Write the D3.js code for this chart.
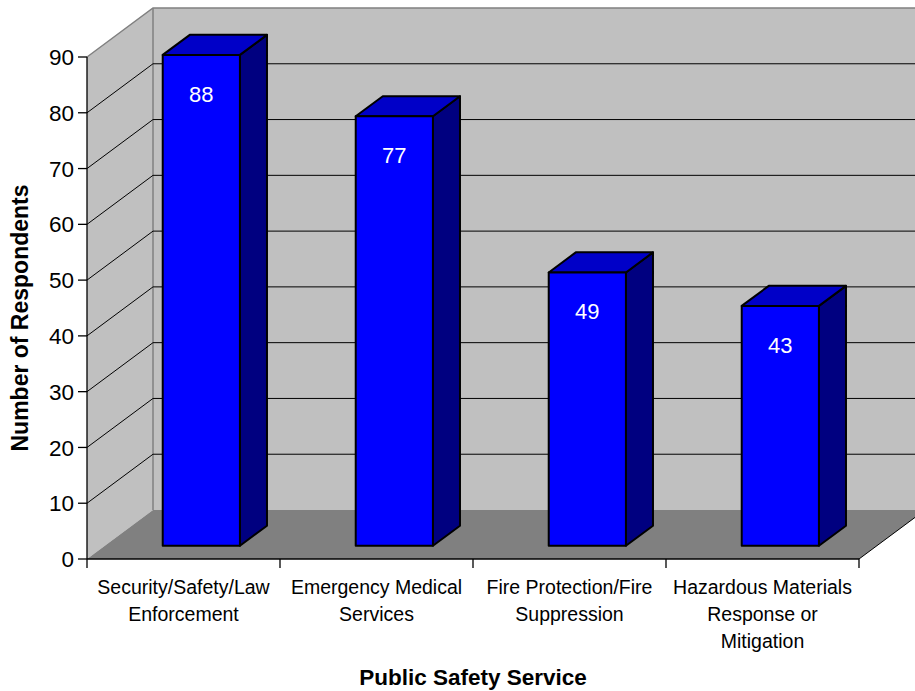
<!DOCTYPE html>
<html><head><meta charset="utf-8">
<script src="https://cdn.jsdelivr.net/npm/d3@7"></script>
<style>body{margin:0;background:#fff}svg{display:block}text{font-family:"Liberation Sans",Arial,sans-serif}</style>
</head><body><svg id="c" width="915" height="691"></svg>
<script>
const categories = ["Security/Safety/Law Enforcement","Emergency Medical Services","Fire Protection/Fire Suppression","Hazardous Materials Response or Mitigation"];
const categoryLines = [["Security/Safety/Law","Enforcement"],["Emergency Medical","Services"],["Fire Protection/Fire","Suppression"],["Hazardous Materials","Response or","Mitigation"]];
const values = [88,77,49,43];
const yTicks = [0,10,20,30,40,50,60,70,80,90];
const yTitle = "Number of Respondents";
const xTitle = "Public Safety Service";

const svg = d3.select("#c");
const W = 915;
const x = d3.scaleBand().domain(categories).range([87,859]).paddingInner(0).paddingOuter(0);
const y = d3.scaleLinear().domain([0,90]).range([559,57]);
const DX = 66, DY = -49; // depth vector (full depth)
const P = (px,py,d)=>[px+DX*d, py+DY*d];
const x0 = x.range()[0], x1 = x.range()[1];

const g = svg.append("g");
// back wall
const bw = [P(x0,y(90),1),[W+5,y(90)+DY],[W+5,y(0)+DY],P(x0,y(0),1)];
g.append("polygon").attr("points",bw.join(" ")).attr("fill","#c0c0c0");
// side wall
const sw = [[x0,y(90)],P(x0,y(90),1),P(x0,y(0),1),[x0,y(0)]];
g.append("polygon").attr("points",sw.join(" ")).attr("fill","#c0c0c0");
// floor
const fl = [[x0,y(0)],P(x0,y(0),1),P(x1,y(0),1),[x1,y(0)]];
g.append("polygon").attr("points",fl.join(" ")).attr("fill","#808080");
// wall edges (gray)
const line = d3.line();
g.append("path").attr("d",line([[x0,y(90)],P(x0,y(90),1),[W+5,y(90)+DY]])).attr("fill","none").attr("stroke","#808080").attr("stroke-width",1.5);
g.append("path").attr("d",line([P(x0,y(90),1),P(x0,y(0),1)])).attr("fill","none").attr("stroke","#808080").attr("stroke-width",1.5);
// gridlines
yTicks.filter(v=>v>0&&v<90).forEach(v=>{
  g.append("path").attr("d",line([[x0,y(v)],P(x0,y(v),1),[W+5,y(v)+DY]]))
   .attr("fill","none").attr("stroke","#000").attr("stroke-width",1);
});
// floor right edge
g.append("path").attr("d",line([[x1,y(0)],P(x1,y(0),1)])).attr("fill","none").attr("stroke","#000").attr("stroke-width",1);

// y axis
g.append("line").attr("x1",x0).attr("x2",x0).attr("y1",y(90)).attr("y2",y(0)).attr("stroke","#000").attr("stroke-width",1.3);
yTicks.forEach(v=>{
  g.append("line").attr("x1",x0-9).attr("x2",x0).attr("y1",y(v)).attr("y2",y(v)).attr("stroke","#000").attr("stroke-width",1.3);
  g.append("text").attr("x",x0-13).attr("y",y(v)).attr("dy","0.36em").attr("text-anchor","end")
   .attr("font-size",22.5).text(v);
});
// x axis
g.append("line").attr("x1",x0).attr("x2",x1).attr("y1",y(0)).attr("y2",y(0)).attr("stroke","#000").attr("stroke-width",1.3);
const bounds = categories.map(c=>x(c)).concat([x1]);
bounds.forEach(b=>{
  g.append("line").attr("x1",b).attr("x2",b).attr("y1",y(0)).attr("y2",y(0)+9).attr("stroke","#000").attr("stroke-width",1.3);
});

// bars
const dF = 0.27, dB = 0.68, bwFrac = 0.4;
categories.forEach((c,i)=>{
  const v = values[i];
  const cx = x(c) + x.bandwidth()/2;
  const hw = x.bandwidth()*bwFrac/2;
  const fl = P(cx-hw, y(v), dF), fr = P(cx+hw, y(v), dF);
  const bl = P(cx-hw, y(0), dF), br = P(cx+hw, y(0), dF);
  const tl2 = P(cx-hw, y(v), dB), tr2 = P(cx+hw, y(v), dB), br2 = P(cx+hw, y(0), dB);
  const bar = g.append("g");
  bar.append("polygon").attr("points",[fr,tr2,br2,br].join(" ")).attr("fill","#000080").attr("stroke","#000").attr("stroke-width",2).attr("stroke-linejoin","round");
  bar.append("polygon").attr("points",[fl,tl2,tr2,fr].join(" ")).attr("fill","#0000c8").attr("stroke","#000").attr("stroke-width",2).attr("stroke-linejoin","round");
  bar.append("polygon").attr("points",[fl,fr,br,bl].join(" ")).attr("fill","#0000ff").attr("stroke","#000").attr("stroke-width",2).attr("stroke-linejoin","round");
  bar.append("text").attr("x",(fl[0]+fr[0])/2).attr("y",fl[1]+39).attr("dy","0.36em").attr("text-anchor","middle")
    .attr("font-size",22).attr("fill","#fff").text(v);
});

// category labels
categories.forEach((c,i)=>{
  const t = g.append("text").attr("text-anchor","middle").attr("font-size",19.5);
  categoryLines[i].forEach((ln,j)=>{
    t.append("tspan").attr("x",x(c)+x.bandwidth()/2).attr("y",587+27*j).attr("dy","0.36em").text(ln);
  });
});
// titles
g.append("text").attr("x",(x0+x1)/2).attr("y",677).attr("dy","0.36em").attr("text-anchor","middle")
  .attr("font-size",22.5).attr("font-weight","bold").text(xTitle);
g.append("text").attr("transform",`translate(20,${(y(0)+y(90))/2+10}) rotate(-90)`).attr("dy","0.36em").attr("text-anchor","middle")
  .attr("font-size",23).attr("font-weight","bold").text(yTitle);
</script></body></html>
